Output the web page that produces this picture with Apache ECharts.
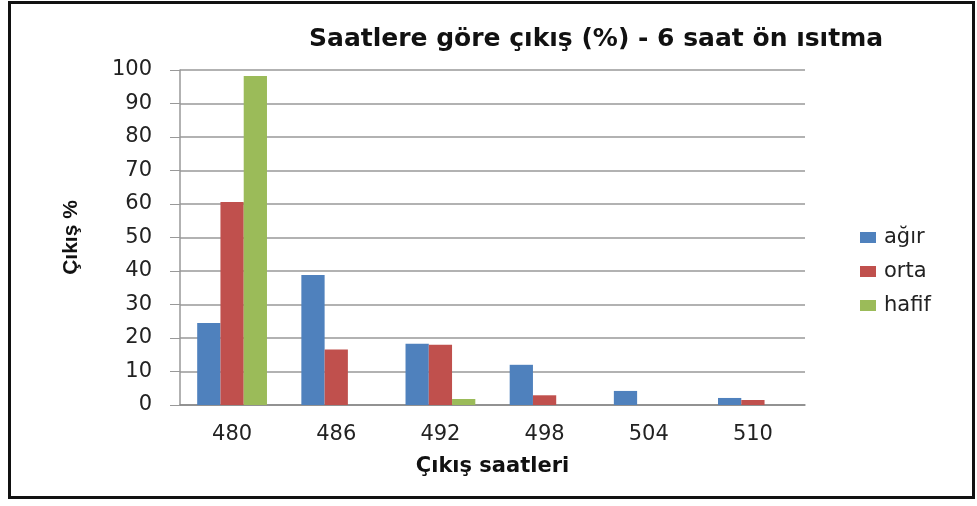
<!DOCTYPE html>
<html>
<head>
<meta charset="utf-8">
<script src="https://cdn.jsdelivr.net/npm/echarts@6/dist/echarts.min.js"></script>
<style>
  html, body { margin: 0; padding: 0; background: #fff; }
  #chart { width: 977px; height: 506px; }
</style>
</head>
<body>
<div id="chart"></div>
<script>
// çıkış saatleri
var hours = ['480', '486', '492', '498', '504', '510']
// çıkış yüzdeleri
var agir = [24.5, 38.8, 18.3, 12.0, 4.2, 2.1]
var orta = [60.6, 16.6, 18.0, 2.9, 0, 1.5]
var hafif = [98.2, 0, 1.8, 0, 0, 0]
var yTicks = [0, 10, 20, 30, 40, 50, 60, 70, 80, 90, 100]

var chart = echarts.init(document.getElementById('chart'))

function bar (name, data, color) {
  return {
    name: name,
    type: 'bar',
    data: data,
    barGap: '0%',
    barCategoryGap: '33%',
    itemStyle: { color: color }
  }
}

chart.setOption({
  animation: false,
  title: {
    text: 'Saatlere göre çıkış (%) - 6 saat ön ısıtma',
    left: 304,
    top: 22,
    textStyle: { fontFamily: 'DejaVu Sans', fontSize: 25, fontWeight: 'bold', color: '#111' }
  },
  legend: {
    orient: 'vertical',
    left: 855,
    top: 222,
    itemWidth: 16,
    itemHeight: 11,
    itemGap: 13,
    icon: 'rect',
    data: ['ağır', 'orta', 'hafif'],
    textStyle: { fontFamily: 'DejaVu Sans', fontSize: 21, color: '#222', padding: [0, 0, 0, 3] }
  },
  graphic: [{
    type: 'rect',
    shape: { x: 9.5, y: 2.5, width: 964, height: 495 },
    style: { fill: 'none', stroke: '#111', lineWidth: 3 },
    silent: true
  }],
  grid: { left: 180, right: 172, top: 70, bottom: 101 },
  xAxis: {
    type: 'category',
    data: hours,
    name: 'Çıkış saatleri',
    nameLocation: 'middle',
    nameGap: 51,
    nameTextStyle: { fontFamily: 'DejaVu Sans', fontSize: 21, fontWeight: 'bold', color: '#111' },
    axisLine: { lineStyle: { color: '#888', width: 1.5 } },
    axisTick: { show: false },
    axisLabel: { margin: 19, fontFamily: 'DejaVu Sans', fontSize: 21, color: '#222' }
  },
  yAxis: {
    type: 'value',
    min: yTicks[0],
    max: yTicks[yTicks.length - 1],
    interval: 10,
    name: 'Çıkış %',
    nameLocation: 'middle',
    nameGap: 98,
    nameTextStyle: { fontFamily: 'Liberation Sans', fontSize: 21, fontWeight: 'bold', color: '#111' },
    axisLine: { show: true, lineStyle: { color: '#999', width: 1.5 } },
    axisTick: { show: true, length: 10, lineStyle: { color: '#999' } },
    axisLabel: { margin: 28, fontFamily: 'DejaVu Sans', fontSize: 21, color: '#222' },
    splitLine: { lineStyle: { color: '#999', width: 1.5 } }
  },
  series: [
    bar('ağır', agir, '#4F81BD'),
    bar('orta', orta, '#C0504D'),
    bar('hafif', hafif, '#9BBB59')
  ]
})
</script>
</body>
</html>
